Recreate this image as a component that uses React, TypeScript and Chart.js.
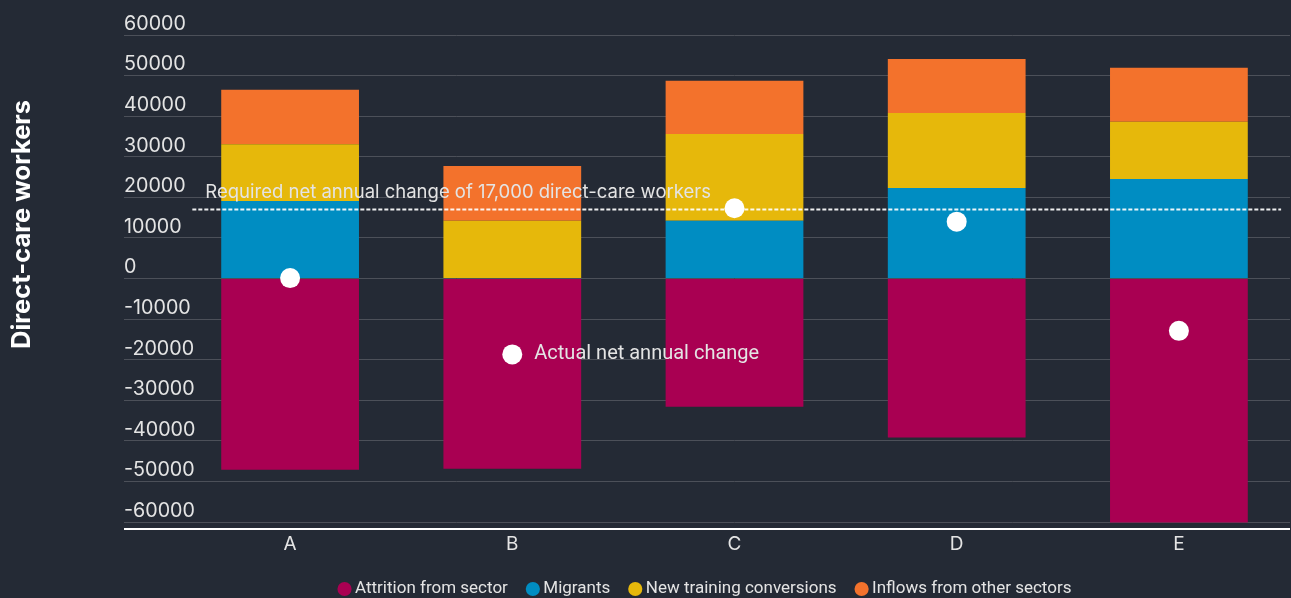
import React, { useEffect, useRef } from "react";
import { Chart, registerables } from "chart.js";

Chart.register(...registerables);

// ---------- data ----------
const categories = ["A", "B", "C", "D", "E"];
const attrition = [-47100, -46900, -31600, -39200, -60100];
const migrants = [19100, 0, 14200, 22300, 24500];
const training = [14000, 14200, 21400, 18500, 14100];
const inflows = [13400, 13500, 13100, 13300, 13300];
const actualNet = [100, -18700, 17300, 14000, -12900];
const requiredNet = 17000;
const requiredSpan = [-0.44, 4.46];
const yTickValues = [60000, 50000, 40000, 30000, 20000, 10000, 0, -10000, -20000, -30000, -40000, -50000, -60000];
const Y_MIN = -61600;
const Y_MAX = 60000;

const seriesLabels = ["Attrition from sector", "Migrants", "New training conversions", "Inflows from other sectors"];
const requiredLabel = "Required net annual change of 17,000 direct-care workers";
const actualLabel = "Actual net annual change";
const yTitle = "Direct-care workers";

// ---------- style ----------
const BG = "#242a35";
const GRID = "#4c5059";
const TEXT = "#e4e4e4";
const COLORS = ["#a90052", "#008dc2", "#e6b80b", "#f3722c"];

const annotPlugin = {
  id: "annot",
  afterDatasetsDraw(chart: any) {
    const ctx = chart.ctx;
    const y = chart.scales.y;
    const xl = chart.scales.xl;
    ctx.save();
    const ly = y.getPixelForValue(requiredNet);
    const lx = xl.getPixelForValue(requiredSpan[0]);
    ctx.font = "18.5px Inter";
    ctx.fillStyle = TEXT;
    ctx.textAlign = "left";
    ctx.textBaseline = "middle";
    ctx.fillText(requiredLabel, lx + 13, ly - 17);

    const meta = chart.getDatasetMeta(4);
    const pt = meta.data[1];
    if (pt) {
      ctx.font = "20px Roboto";
      ctx.fillStyle = TEXT;
      ctx.fillText(actualLabel, pt.x + 22, pt.y);
    }
    ctx.restore();
  },
  afterDraw(chart: any) {
    const ctx = chart.ctx;
    ctx.save();
    ctx.translate(22.5, 224.5);
    ctx.rotate(-Math.PI / 2);
    ctx.font = "bold 25.5px Inter";
    ctx.fillStyle = "#ffffff";
    ctx.textAlign = "center";
    ctx.textBaseline = "middle";
    ctx.fillText(yTitle, 0, 0);
    ctx.restore();
  },
};

export default function App() {
  const ref = useRef<HTMLCanvasElement | null>(null);

  useEffect(() => {
    if (!ref.current) return;
    const barSeries = [attrition, migrants, training, inflows];
    const chart = new Chart(ref.current, {
      type: "bar",
      data: {
        labels: categories,
        datasets: [
          ...barSeries.map((d, i) => ({
            type: "bar" as const,
            label: seriesLabels[i],
            data: d,
            backgroundColor: COLORS[i],
            borderColor: COLORS[i],
            borderWidth: 0,
            stack: "bars",
            grouped: false,
            order: 2,
            barPercentage: 1,
            categoryPercentage: 0.62,
          })),
          {
            type: "line" as const,
            label: actualLabel,
            data: actualNet,
            showLine: false,
            pointRadius: 10,
            pointHoverRadius: 10,
            pointBackgroundColor: "#ffffff",
            pointBorderWidth: 0,
            borderColor: "#ffffff",
            stack: "net",
            order: 0,
          },
          {
            type: "line" as const,
            label: requiredLabel,
            data: requiredSpan.map((x) => ({ x, y: requiredNet })),
            xAxisID: "xl",
            borderColor: "rgba(255,255,255,0.92)",
            borderWidth: 2,
            borderDash: [4, 2],
            pointRadius: 0,
            stack: "req",
            order: 1,
          } as any,
        ],
      },
      options: {
        responsive: false,
        animation: false,
        layout: { autoPadding: false, padding: { top: 35, left: 124, right: 1, bottom: 0 } },
        plugins: {
          tooltip: { enabled: false },
          legend: {
            position: "bottom",
            maxHeight: 40.5,
            labels: {
              usePointStyle: true,
              pointStyle: "circle",
              boxWidth: 4,
              boxHeight: 10,
              padding: 23,
              color: TEXT,
              font: { family: "Roboto", size: 17 },
              filter: (item: any) => item.datasetIndex < 4,
            },
          },
        },
        scales: {
          x: {
            type: "category",
            stacked: true,
            grid: { display: false },
            border: { display: false },
            ticks: { color: TEXT, font: { family: "Inter", size: 19 }, padding: -4 },
            afterFit: (s: any) => {
              s.height = 29;
              s.paddingLeft = 0;
              s.paddingRight = 0;
            },
          },
          xl: {
            type: "linear",
            display: false,
            offset: false,
            min: -0.5,
            max: 4.5,
          },
          y: {
            stacked: true,
            min: Y_MIN,
            max: Y_MAX,
            border: { display: false },
            afterBuildTicks: (s: any) => {
              s.ticks = [{ value: Y_MIN }, ...yTickValues.slice().reverse().map((v) => ({ value: v }))];
            },
            afterFit: (s: any) => {
              s.width = 55;
            },
            grid: {
              drawTicks: true,
              tickLength: 55,
              color: (c: any) => (c.tick && c.tick.value === Y_MIN ? "#ffffff" : GRID),
              tickColor: (c: any) => (c.tick && c.tick.value === Y_MIN ? "#ffffff" : GRID),
              lineWidth: (c: any) => (c.tick && c.tick.value === Y_MIN ? 2 : 1),
              tickWidth: (c: any) => (c.tick && c.tick.value === Y_MIN ? 2 : 1),
            },
            ticks: {
              autoSkip: false,
              mirror: true,
              crossAlign: "near",
              labelOffset: -11,
              padding: -55,
              color: TEXT,
              font: { family: "Inter", size: 19.7 },
              callback: (v: any) => (v === Y_MIN ? "" : String(v)),
            },
          },
        },
      } as any,
      plugins: [annotPlugin],
    });
    return () => chart.destroy();
  }, []);

  return (
    <div style={{ position: "fixed", left: 0, top: 0, width: 1291, height: 598, background: BG }}>
      <canvas ref={ref} width={1291} height={598} style={{ display: "block" }} />
    </div>
  );
}
